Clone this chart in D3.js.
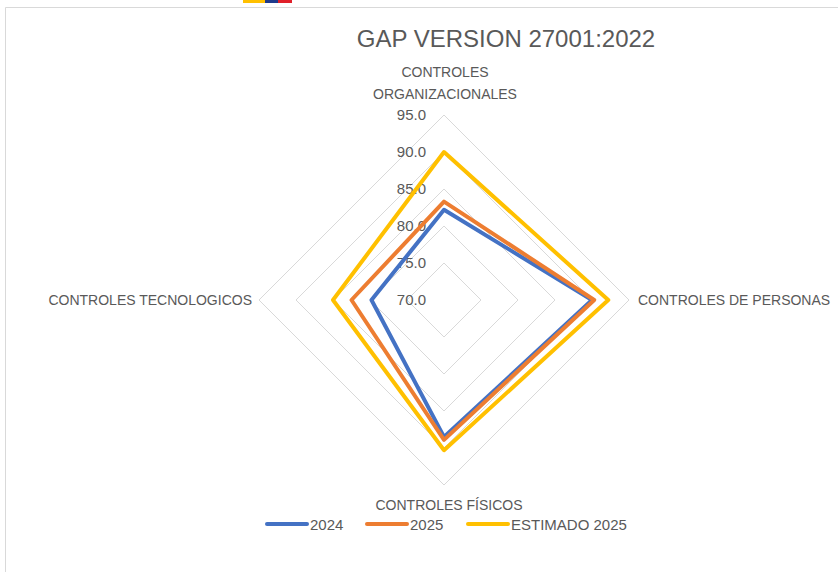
<!DOCTYPE html>
<html>
  <head>
    <meta charset="utf-8">
    <title>GAP VERSION 27001:2022</title>
    <script src="https://d3js.org/d3.v7.min.js"></script>
    <style>
      body { margin: 0; background: #fff; }
      svg { display: block; font-family: "Liberation Sans", Arial, sans-serif; }
    </style>
  </head>
  <body>
    <svg id="chart" width="838" height="572"></svg>
    <script>
      // data
      const axes = ["CONTROLES ORGANIZACIONALES", "CONTROLES DE PERSONAS", "CONTROLES FÍSICOS", "CONTROLES TECNOLOGICOS"];
      const seriesNames = ["2024", "2025", "ESTIMADO 2025"];
      const values2024 = [82.2, 90.0, 88.5, 79.8];
      const values2025 = [83.3, 90.3, 88.9, 82.5];
      const valuesEst2025 = [90.0, 92.2, 90.3, 85.0];
      const ticks = [70, 75, 80, 85, 90, 95];
      const colors = ["#4472c4", "#ed7d31", "#ffc000"];

      const series = [values2024, values2025, valuesEst2025];

      const svg = d3.select("#chart");
      const cx = 444, cy = 300;

      // frame and the bit of header stripe peeking in
      svg.append("rect").attr("x", 243).attr("y", 0).attr("width", 22).attr("height", 3).attr("fill", "#ffc000");
      svg.append("rect").attr("x", 265).attr("y", 0).attr("width", 13).attr("height", 3).attr("fill", "#1f3b8c");
      svg.append("rect").attr("x", 278).attr("y", 0).attr("width", 14).attr("height", 3).attr("fill", "#e0202a");
      svg.append("path")
        .attr("d", "M5.5,572 V7.5 H838")
        .attr("fill", "none")
        .attr("stroke", "#d9d9d9")
        .attr("stroke-width", 1);

      // title
      svg.append("text")
        .attr("x", 506).attr("y", 47)
        .attr("text-anchor", "middle")
        .attr("font-size", 24)
        .attr("fill", "#595959")
        .text("GAP VERSION 27001:2022");

      const r = d3.scaleLinear().domain([70, 95]).range([0, 185]);
      const angle = d3.scaleLinear().domain([0, axes.length]).range([0, 2 * Math.PI]);
      function pt(i, v) {
        const a = angle(i);
        return [cx + r(v) * Math.sin(a), cy - r(v) * Math.cos(a)];
      }

      const g = svg.append("g");

      // grid rings
      g.selectAll(".ring")
          .data(ticks.slice(1))
        .enter().append("polygon")
          .attr("class", "ring")
          .attr("points", function(t) { return axes.map(function(d, i) { return pt(i, t).join(","); }).join(" "); })
          .attr("fill", "none")
          .attr("stroke", "#d9d9d9")
          .attr("stroke-width", 1);

      // tick labels
      g.selectAll(".tick")
          .data(ticks)
        .enter().append("text")
          .attr("class", "tick")
          .attr("x", cx - 18)
          .attr("y", function(t) { return cy - r(t) + 5; })
          .attr("text-anchor", "end")
          .attr("font-size", 15)
          .attr("fill", "#595959")
          .text(function(t) { return d3.format(".1f")(t); });

      // series
      const line = d3.line().curve(d3.curveLinearClosed);
      g.selectAll(".series")
          .data(series)
        .enter().append("path")
          .attr("class", "series")
          .attr("d", function(s) { return line(s.map(function(v, i) { return pt(i, v); })); })
          .attr("fill", "none")
          .attr("stroke", function(s, i) { return colors[i]; })
          .attr("stroke-width", 4)
          .attr("stroke-linejoin", "round");

      // axis labels
      const lab = { fill: "#595959", size: 14 };
      const topLabel = svg.append("text")
        .attr("x", 445).attr("y", 77)
        .attr("text-anchor", "middle")
        .attr("font-size", lab.size)
        .attr("fill", lab.fill);
      topLabel.append("tspan").attr("x", 445).text("CONTROLES");
      topLabel.append("tspan").attr("x", 445).attr("dy", 22).text("ORGANIZACIONALES");
      svg.append("text")
        .attr("x", 638).attr("y", 305)
        .attr("font-size", lab.size).attr("fill", lab.fill)
        .text(axes[1]);
      svg.append("text")
        .attr("x", 449).attr("y", 510)
        .attr("text-anchor", "middle")
        .attr("font-size", lab.size).attr("fill", lab.fill)
        .text(axes[2]);
      svg.append("text")
        .attr("x", 252).attr("y", 305)
        .attr("text-anchor", "end")
        .attr("font-size", lab.size).attr("fill", lab.fill)
        .text(axes[3]);

      // legend
      const legendX = [267, 367, 468];
      const legend = svg.selectAll(".legend")
          .data(seriesNames)
        .enter().append("g")
          .attr("class", "legend")
          .attr("transform", function(d, i) { return "translate(" + legendX[i] + ",524)"; });
      legend.append("line")
        .attr("x1", 0).attr("x2", 40)
        .attr("stroke", function(d, i) { return colors[i]; })
        .attr("stroke-width", 4)
        .attr("stroke-linecap", "round");
      legend.append("text")
        .attr("x", 43).attr("y", 5.5)
        .attr("font-size", 15)
        .attr("fill", "#595959")
        .text(function(d) { return d; });
    </script>
  </body>
</html>
